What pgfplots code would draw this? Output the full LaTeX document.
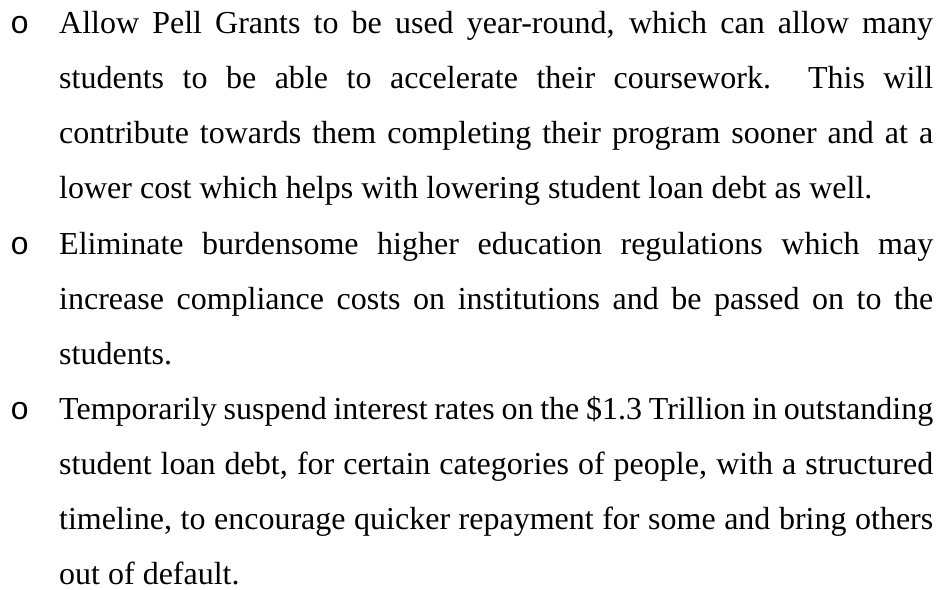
\documentclass[border=0pt]{standalone}
\usepackage{pgfplots}
\pgfplotsset{compat=1.18}
\usepackage{fontspec}
\setmainfont{Liberation Serif}
\setmonofont{Liberation Mono}
\newcommand\body{\fontsize{32}{55.1}\selectfont}
\newcommand\para[1]{\hyphenpenalty=10000\exhyphenpenalty=10000\tolerance=10000\emergencystretch=0pt #1\par}

\begin{document}
\begin{tikzpicture}
\begin{axis}[
    width=942pt, height=589pt, scale only axis,
    xmin=0, xmax=942, ymin=0, ymax=589, y dir=reverse,
    hide axis, clip=false,
]
\path[fill=white] (rel axis cs:0,0) rectangle (rel axis cs:1,1);

% bullets
\node[anchor=base west, inner sep=0pt, font=\body\ttfamily] at (axis cs:10,33) {o};
\node[anchor=base west, inner sep=0pt, font=\body\ttfamily] at (axis cs:10,254) {o};
\node[anchor=base west, inner sep=0pt, font=\body\ttfamily] at (axis cs:10,419) {o};

% items, broken where the original breaks
\node[anchor=base west, inner sep=0pt, text width=874pt, align=justify, font=\body] at (axis cs:59,33) {\para{Allow Pell Grants to be used year-round, which can allow many\linebreak
students to be able to accelerate their coursework.\ \ This will\linebreak
contribute towards them completing their program sooner and at a\linebreak
lower cost which helps with lowering student loan debt as well.}};

\node[anchor=base west, inner sep=0pt, text width=874pt, align=justify, font=\body] at (axis cs:59,254) {\para{Eliminate burdensome higher education regulations which may\linebreak
increase compliance costs on institutions and be passed on to the\linebreak
students.}};

\node[anchor=base west, inner sep=0pt, text width=874pt, align=justify, font=\body] at (axis cs:59,419) {\para{Temporarily suspend interest rates on the \$1.3 Trillion in outstanding\linebreak
student loan debt, for certain categories of people, with a structured\linebreak
timeline, to encourage quicker repayment for some and bring others\linebreak
out of default.}};
\end{axis}
\pgfresetboundingbox
\path (current axis.south west) rectangle (current axis.north east);
\end{tikzpicture}
\end{document}
